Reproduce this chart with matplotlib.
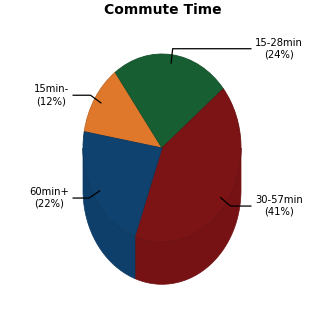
import matplotlib
matplotlib.use("Agg")
import matplotlib.pyplot as plt
from matplotlib.patches import Polygon
import numpy as np

# data
labels = ["15min-", "15-28min", "30-57min", "60min+"]
values = [12, 24, 41, 22]
colors = ["#e0782b", "#175e32", "#7c1315", "#0f426e"]
title = "Commute Time"


def darker(c, f):
    r, g, b = matplotlib.colors.to_rgb(c)
    return (r * f, g * f, b * f)


fig = plt.figure(figsize=(3.25, 3.25), dpi=100)
ax = fig.add_axes([0, 0, 1, 1])

depth = 0.45
wedges, _ = ax.pie(values, colors=colors, startangle=170, counterclock=False,
                   radius=1, center=(0, 0),
                   wedgeprops=dict(linewidth=0.6, zorder=3))
for w, c in zip(wedges, colors):
    w.set_edgecolor(darker(c, 0.85))

# side wall of the lower half
for w, c in zip(wedges, colors):
    for lo, hi in [(-180, 0), (180, 360)]:
        a = max(w.theta1, lo)
        b = min(w.theta2, hi)
        if b <= a:
            continue
        t = np.radians(np.linspace(a, b, 60))
        top = np.column_stack([np.cos(t), np.sin(t)])
        bot = np.column_stack([np.cos(t[::-1]), np.sin(t[::-1]) - depth])
        ax.add_patch(Polygon(np.vstack([top, bot]), closed=True,
                             facecolor=darker(c, 0.96), edgecolor=darker(c, 0.9),
                             linewidth=0.5, zorder=2))

# labels with leader lines
total = sum(values)
for w, lab, v in zip(wedges, labels, values):
    mid = np.radians((w.theta1 + w.theta2) / 2)
    ax0, ay0 = 0.91 * np.cos(mid), 0.91 * np.sin(mid)
    ex, ey = ax0 * 1.17, ay0 * 1.17
    side = 1 if np.cos(mid) >= 0 else -1
    lx = 1.125 * side
    ax.plot([ax0, ex, lx], [ay0, ey, ey], color="black", linewidth=0.9, zorder=4)
    ax.text(lx + 0.05 * side, ey, "%s\n(%d%%)" % (lab, round(v * 100.0 / total)),
            ha="left" if side > 0 else "right", va="center",
            multialignment="center", fontsize=7.2, color="black")

ax.set_aspect("auto")
ax.set_xlim(-162 / 79.0, 163 / 79.0)
ax.set_ylim(-177 / 94.0, 148 / 94.0)
ax.axis("off")

fig.text(0.5, 1 - 14 / 325.0, title, ha="center", va="baseline",
         fontsize=10, fontweight="bold")

fig.savefig("out.png", dpi=100)
